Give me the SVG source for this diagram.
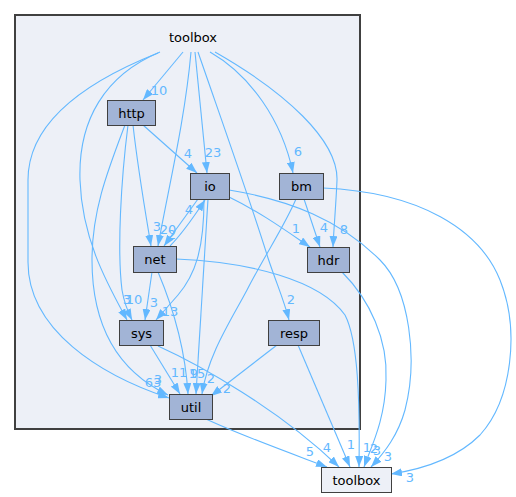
<svg xmlns="http://www.w3.org/2000/svg" width="516" height="497" viewBox="0 0 516 497">
<style>
.n rect{fill:#a2b4d6;stroke:#404040;stroke-width:1}
.n text,.lbl{font-family:"DejaVu Sans","Liberation Sans",sans-serif;font-size:13px;text-anchor:middle}
.n text{fill:#000}
.e path{fill:none;stroke:#63b8ff;stroke-width:1.1;marker-end:url(#ah)}
.lbl{fill:#63b8ff}
</style>
<defs>
<marker id="ah" markerUnits="userSpaceOnUse" viewBox="0 0 11 8" markerWidth="11" markerHeight="8" refX="11" refY="4" orient="auto">
<path d="M0,0 L11,4 L0,8 z" fill="#63b8ff"/>
</marker>
</defs>
<rect width="516" height="497" fill="#fff"/>
<g id="cluster_toolbox">
<rect x="15" y="15" width="345" height="414" fill="#edf0f7" stroke="#404040" stroke-width="2"/>
<text x="193" y="42" class="lbl" style="fill:#000">toolbox</text>
</g>
<g id="connectors" class="e">
<path d="M183,52 L143,100"/>
<path d="M195,52 C199,95 203,135 207,173"/>
<path d="M210,52 C250,75 282,120 293,173"/>
<path d="M215,52 C285,92 338,140 337,180 C336,205 334,225 333,247"/>
<path d="M198,52 C225,130 250,200 268,258 C277,285 284,300 289,320"/>
<path d="M191,52 C185,120 168,190 158,246"/>
<path d="M160,52 C105,75 78,120 80,180 C82,240 108,285 127,320"/>
<path d="M158,53 C90,80 28,120 28,180 L28,262 C28,330 100,375 169,398"/>
<path d="M143,125 L197,173"/>
<path d="M133,125 C138,170 145,210 151,246"/>
<path d="M128,125 C121,180 117,250 122,290 C124,302 128,312 132,320"/>
<path d="M125,125 C108,170 92,210 92,260 C92,330 120,372 168,395"/>
<path d="M198,199 L164,246"/>
<path d="M170,246 C184,232 195,215 205,200"/>
<path d="M204,199 C204,250 195,275 178,295 C170,304 163,312 156,320"/>
<path d="M208,199 L196,394"/>
<path d="M229,197 C260,212 285,230 310,247"/>
<path d="M229,190 C290,200 340,220 380,260 C410,290 418,360 405,410 C398,435 385,452 371,467"/>
<path d="M304,199 L320,247"/>
<path d="M296,199 C285,225 265,255 247,290 C230,322 208,355 202,394"/>
<path d="M323,188 C420,192 480,230 500,280 C520,330 512,400 480,435 C460,455 430,468 391,474"/>
<path d="M342,272 C370,300 388,340 386,380 C385,420 372,445 364,467"/>
<path d="M152,272 L145,320"/>
<path d="M158,272 C172,305 185,345 188,394"/>
<path d="M176,259 C250,262 320,280 345,315 C358,340 360,400 359,467"/>
<path d="M150,345 L180,394"/>
<path d="M158,346 C200,365 280,410 339,467"/>
<path d="M277,345 L211,396"/>
<path d="M298,345 L350,467"/>
<path d="M206,419 C240,435 290,453 327,467"/>
</g>
<g id="edge_labels">
<text class="lbl" x="159" y="95">10</text>
<text class="lbl" x="213" y="157">23</text>
<text class="lbl" x="298" y="156">6</text>
<text class="lbl" x="344" y="234">8</text>
<text class="lbl" x="291" y="304">2</text>
<text class="lbl" x="188" y="158">4</text>
<text class="lbl" x="157" y="231">3</text>
<text class="lbl" x="168" y="234">20</text>
<text class="lbl" x="172" y="239">2</text>
<text class="lbl" x="189" y="214">4</text>
<text class="lbl" x="296" y="233">1</text>
<text class="lbl" x="324" y="232">4</text>
<text class="lbl" x="127" y="304">3</text>
<text class="lbl" x="134" y="304">10</text>
<text class="lbl" x="154" y="307">3</text>
<text class="lbl" x="170" y="316">13</text>
<text class="lbl" x="179" y="377">11</text>
<text class="lbl" x="194" y="378">9</text>
<text class="lbl" x="197" y="378">15</text>
<text class="lbl" x="211" y="383">2</text>
<text class="lbl" x="227" y="393">2</text>
<text class="lbl" x="153" y="387">63</text>
<text class="lbl" x="158" y="384">3</text>
<text class="lbl" x="310" y="456">5</text>
<text class="lbl" x="327" y="452">4</text>
<text class="lbl" x="351" y="449">1</text>
<text class="lbl" x="367" y="452">1</text>
<text class="lbl" x="374" y="453">2</text>
<text class="lbl" x="377" y="455">3</text>
<text class="lbl" x="388" y="461">3</text>
<text class="lbl" x="410" y="482">3</text>
</g>
<g id="node_http" class="n"><rect x="107.5" y="100.5" width="48" height="25"/><text x="131.5" y="117.5">http</text></g>
<g id="node_io" class="n"><rect x="190.5" y="173.5" width="39" height="26"/><text x="210" y="190.5">io</text></g>
<g id="node_bm" class="n"><rect x="279.5" y="173.5" width="44" height="26"/><text x="301.5" y="190.5">bm</text></g>
<g id="node_hdr" class="n"><rect x="307.5" y="247.5" width="42" height="25"/><text x="328.5" y="264.5">hdr</text></g>
<g id="node_net" class="n"><rect x="133.5" y="246.5" width="43" height="26"/><text x="155" y="263.5">net</text></g>
<g id="node_sys" class="n"><rect x="119.5" y="320.5" width="44" height="25"/><text x="141.5" y="337.5">sys</text></g>
<g id="node_util" class="n"><rect x="169.5" y="394.5" width="43" height="25"/><text x="191" y="411.5">util</text></g>
<g id="node_resp" class="n"><rect x="268.5" y="320.5" width="51" height="25"/><text x="294" y="337.5">resp</text></g>
<g id="node_toolbox_ext" class="n"><rect x="321.5" y="467.5" width="70" height="25" style="fill:#edf0f7"/><text x="356.5" y="484.5">toolbox</text></g>
</svg>
